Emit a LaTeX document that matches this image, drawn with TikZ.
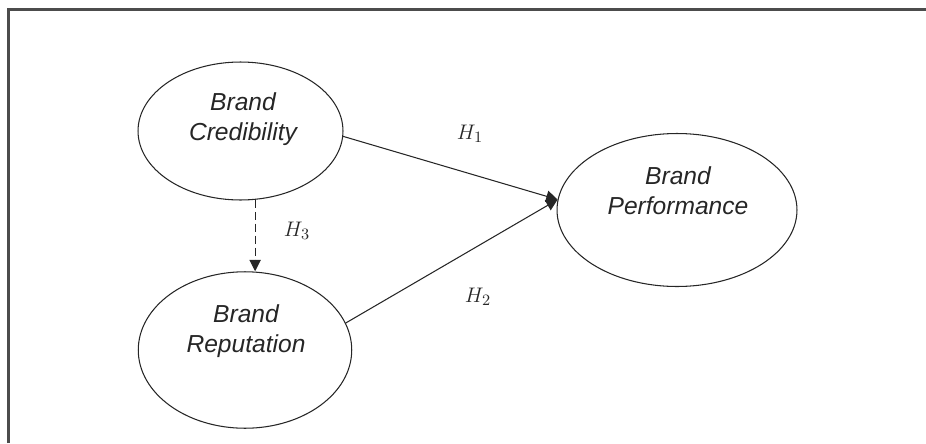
\documentclass[tikz,border=0pt]{standalone}
\usepackage{fontspec}
\setsansfont{Liberation Sans}
\usepackage{tikz}
\usetikzlibrary{positioning,arrows.meta,shapes.geometric}

\begin{document}
\begin{tikzpicture}[
    x=0.02cm, y=-0.02cm,
    >={Triangle[length=6.5pt,width=6.5pt]},
    cnstr/.style = {ellipse, draw=black!85, line width=0.6pt, inner sep=0pt},
    cname/.style = {align=center, inner sep=0pt, text=black!85,
                    font=\sffamily\itshape\fontsize{14}{17}\selectfont},
    rel/.style   = {->, draw=black!85, line width=0.6pt},
    mod/.style   = {rel, dash pattern=on 4.5pt off 2.3pt},
    hyp/.style   = {inner sep=0pt, text=black!85, font=\fontsize{13}{15}\selectfont},
    frm/.style   = {draw=black!70, line width=1.3pt},
]
\useasboundingbox (0,0) rectangle (926,443);

% ============ frame (top and left only) ============
\draw[frm] (8.5,443) |- (926,9.5);

% ============ constructs ============
\node[cnstr, minimum width=4.1cm, minimum height=2.76cm] (cred) at (240.5,131) {};
\node[cname] (credtxt) at (243,119) {Brand\\Credibility};

\node[cnstr, minimum width=4.27cm, minimum height=3.13cm] (rep) at (245,350) {};
\node[cname] (reptxt) at (246,331) {Brand\\Reputation};

\node[cnstr, minimum width=4.8cm, minimum height=3.06cm] (perf) at (677,210) {};
\node[cname] (perftxt) at (678,191) {Brand\\Performance};

% ============ hypotheses ============
\draw[rel] (cred.-3) -- (perf.175);
\draw[rel] (rep.15) -- (perf.175);
% H3: credibility -> reputation (dashed)
\draw[mod] (cred.-78) -- (cred.-78 |- rep.north);

\node[hyp] (h1) at (470,134) {$H_1$};
\node[hyp] (h2) at (478,297) {$H_2$};
\node[hyp] (h3) at (297,231) {$H_3$};

\end{tikzpicture}
\end{document}
